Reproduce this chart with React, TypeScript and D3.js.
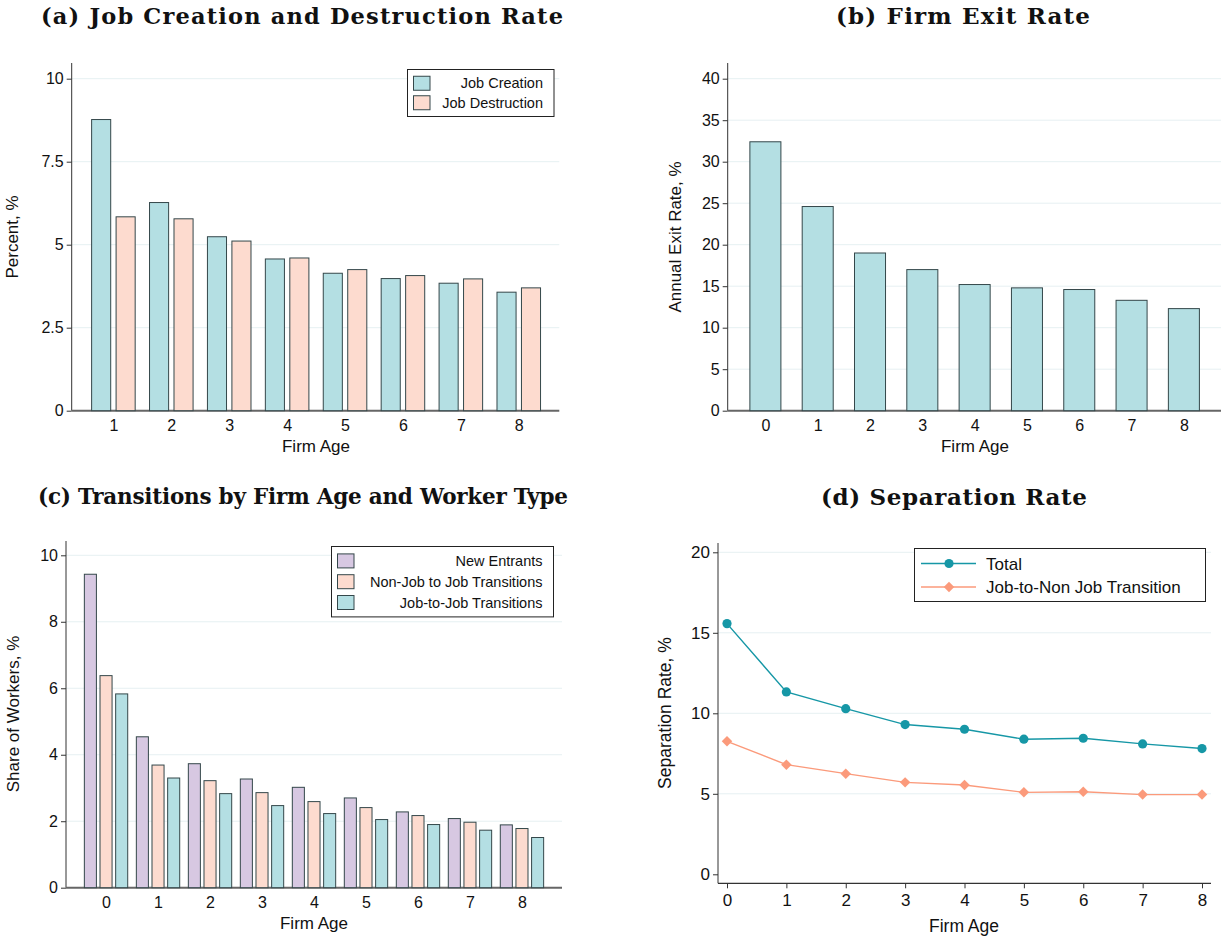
import React, { useEffect, useRef } from "react";
import * as d3 from "d3";

// ---- data ----
const agesA = [1, 2, 3, 4, 5, 6, 7, 8];
const jobCreation = [8.77, 6.27, 5.24, 4.57, 4.14, 3.98, 3.84, 3.57];
const jobDestruction = [5.84, 5.78, 5.11, 4.6, 4.25, 4.07, 3.97, 3.7];

const agesB = [0, 1, 2, 3, 4, 5, 6, 7, 8];
const exitRate = [32.4, 24.6, 19.0, 17.0, 15.2, 14.8, 14.6, 13.3, 12.3];

const newEntrants = [9.43, 4.54, 3.73, 3.27, 3.02, 2.7, 2.28, 2.08, 1.89];
const nonJobToJob = [6.38, 3.69, 3.22, 2.86, 2.59, 2.41, 2.17, 1.97, 1.78];
const jobToJob = [5.83, 3.3, 2.83, 2.47, 2.23, 2.05, 1.9, 1.73, 1.51];

const sepTotal = [15.57, 11.33, 10.29, 9.3, 9.01, 8.39, 8.45, 8.1, 7.81];
const sepJobToNonJob = [8.26, 6.81, 6.25, 5.71, 5.55, 5.09, 5.13, 4.95, 4.95];

const yTicksA = [0, 2.5, 5, 7.5, 10];
const yTicksB = [0, 5, 10, 15, 20, 25, 30, 35, 40];
const yTicksC = [0, 2, 4, 6, 8, 10];
const yTicksD = [0, 5, 10, 15, 20];

const TEAL = "#b4dfe3";
const PEACH = "#fddbcf";
const LAVENDER = "#d7c8e2";
const EDGE = "#34474a";
const GRID = "#e6f0f2";
const LINE_TOTAL = "#1697a6";
const LINE_JTN = "#fb9a7b";
const SANS = "'Liberation Sans', Arial, sans-serif";
const SERIF = "'DejaVu Serif', serif";

type Panel = {
  x: d3.ScaleLinear<number, number>;
  y: d3.ScaleLinear<number, number>;
  xTicks: number[];
  yTicks: number[];
  axisTop: number;
  xLeft: number;
  xRight: number;
  yBottom: number;
  font: number;
  xTickMarks: boolean;
  xPad: number;
};

function drawFrame(svg: any, p: Panel) {
  const g = svg.append("g");
  // gridlines
  g.selectAll("line.grid")
    .data(p.yTicks.filter((t) => t !== 0))
    .enter()
    .append("line")
    .attr("x1", p.xLeft)
    .attr("x2", p.xRight)
    .attr("y1", (d: number) => p.y(d))
    .attr("y2", (d: number) => p.y(d))
    .attr("stroke", GRID)
    .attr("stroke-width", 1);

  // y axis
  const ya = g
    .append("g")
    .attr("transform", `translate(${p.xLeft},0)`)
    .call(
      d3
        .axisLeft(p.y)
        .tickValues(p.yTicks)
        .tickSize(5)
        .tickPadding(3)
        .tickFormat((d: any) => String(d))
    );
  ya.select(".domain").remove();
  ya.selectAll("line").attr("stroke", "#333");
  ya.selectAll("text")
    .attr("font-family", SANS)
    .attr("font-size", p.font)
    .attr("fill", "#111");
  g.append("line")
    .attr("x1", p.xLeft)
    .attr("x2", p.xLeft)
    .attr("y1", p.axisTop)
    .attr("y2", p.yBottom)
    .attr("stroke", "#333")
    .attr("stroke-width", 1);

  // x axis
  const xa = g
    .append("g")
    .attr("transform", `translate(0,${p.yBottom})`)
    .call(
      d3
        .axisBottom(p.x)
        .tickValues(p.xTicks)
        .tickSize(p.xTickMarks ? 5 : 0)
        .tickPadding(p.xPad)
        .tickFormat((d: any) => String(d))
    );
  xa.select(".domain").remove();
  xa.selectAll("line").attr("stroke", "#333");
  xa.selectAll("text")
    .attr("font-family", SANS)
    .attr("font-size", p.font)
    .attr("fill", "#111");
  g.append("line")
    .attr("x1", p.xLeft)
    .attr("x2", p.xRight)
    .attr("y1", p.yBottom)
    .attr("y2", p.yBottom)
    .attr("stroke", p.xTickMarks ? "#333" : "#666")
    .attr("stroke-width", p.xTickMarks ? 1.2 : 2);
}

function label(svg: any, text: string, x: number, y: number, size: number, rotate = false) {
  svg
    .append("text")
    .attr("transform", rotate ? `translate(${x},${y}) rotate(-90)` : `translate(${x},${y})`)
    .attr("text-anchor", "middle")
    .attr("font-family", SANS)
    .attr("font-size", size)
    .attr("fill", "#111")
    .text(text);
}

// panel titles: width fitted to the reference's serif titles
function title(svg: any, text: string, x: number, y: number, width: number, size: number) {
  svg
    .append("text")
    .attr("x", x - width / 2)
    .attr("y", y)
    .attr("font-family", SERIF)
    .attr("font-weight", "bold")
    .attr("font-size", size)
    .attr("textLength", width)
    .attr("lengthAdjust", "spacing")
    .attr("fill", "#111")
    .text(text);
}

function barLegend(svg: any, items: { name: string; color: string }[], x0: number, y0: number, x1: number, rowH: number) {
  const h = items.length * rowH + 8;
  svg
    .append("rect")
    .attr("x", x0)
    .attr("y", y0)
    .attr("width", x1 - x0)
    .attr("height", h)
    .attr("fill", "white")
    .attr("stroke", "#222")
    .attr("stroke-width", 1);
  items.forEach((it, i) => {
    const cy = y0 + 4 + rowH * i + rowH / 2;
    svg
      .append("rect")
      .attr("x", x0 + 6)
      .attr("y", cy - 7)
      .attr("width", 16.5)
      .attr("height", 14)
      .attr("fill", it.color)
      .attr("stroke", EDGE)
      .attr("stroke-width", 1);
    svg
      .append("text")
      .attr("x", x1 - 11)
      .attr("y", cy + 5)
      .attr("text-anchor", "end")
      .attr("font-family", SANS)
      .attr("font-size", 14.5)
      .attr("fill", "#111")
      .text(it.name);
  });
}

const App = () => {
  const ref = useRef<SVGSVGElement>(null);

  useEffect(() => {
    const svg = d3.select(ref.current);
    svg.selectAll("*").remove();

    // ---------- (a) ----------
    const pa: Panel = {
      x: d3.scaleLinear().domain([0.28, 8.7]).range([71.7, 559.3]),
      y: d3.scaleLinear().domain([0, 10]).range([410.7, 78.7]),
      xTicks: agesA,
      yTicks: yTicksA,
      axisTop: 63,
      xLeft: 71.7,
      xRight: 559.3,
      yBottom: 410.7,
      font: 16,
      xTickMarks: false,
      xPad: 8.5,
    };
    const stepA = pa.x(2) - pa.x(1);
    const subA = d3
      .scaleBand<string>()
      .domain(["jc", "jd"])
      .range([-0.376 * stepA, 0.376 * stepA])
      .paddingInner(0.22);
    drawFrame(svg, pa);
    const seriesA = [
      { key: "jc", vals: jobCreation, color: TEAL },
      { key: "jd", vals: jobDestruction, color: PEACH },
    ];
    seriesA.forEach((s) => {
      svg
        .append("g")
        .selectAll("rect")
        .data(s.vals)
        .enter()
        .append("rect")
        .attr("x", (d: number, i: number) => pa.x(agesA[i]) + (subA(s.key) as number))
        .attr("y", (d: number) => pa.y(d))
        .attr("width", subA.bandwidth())
        .attr("height", (d: number) => pa.y(0) - pa.y(d))
        .attr("fill", s.color)
        .attr("stroke", EDGE)
        .attr("stroke-width", 1);
    });
    title(svg, "(a) Job Creation and Destruction Rate", 302, 24, 522, 22.5);
    label(svg, "Firm Age", 316, 452, 17);
    label(svg, "Percent, %", 18, 237, 17, true);
    barLegend(
      svg,
      [
        { name: "Job Creation", color: TEAL },
        { name: "Job Destruction", color: PEACH },
      ],
      407.5,
      69.5,
      554,
      19.5
    );

    // ---------- (b) ----------
    const pb: Panel = {
      x: d3.scaleLinear().domain([-0.72, 8.71]).range([727.7, 1221]),
      y: d3.scaleLinear().domain([0, 40]).range([410.7, 78.7]),
      xTicks: agesB,
      yTicks: yTicksB,
      axisTop: 63,
      xLeft: 727.7,
      xRight: 1221,
      yBottom: 410.7,
      font: 16,
      xTickMarks: false,
      xPad: 9,
    };
    const stepB = pb.x(1) - pb.x(0);
    drawFrame(svg, pb);
    svg
      .append("g")
      .selectAll("rect")
      .data(exitRate)
      .enter()
      .append("rect")
      .attr("x", (d: number, i: number) => pb.x(agesB[i]) - 0.296 * stepB)
      .attr("y", (d: number) => pb.y(d))
      .attr("width", 0.593 * stepB)
      .attr("height", (d: number) => pb.y(0) - pb.y(d))
      .attr("fill", TEAL)
      .attr("stroke", EDGE)
      .attr("stroke-width", 1);
    title(svg, "(b) Firm Exit Rate", 963, 24, 254, 23);
    label(svg, "Firm Age", 975, 452, 17);
    label(svg, "Annual Exit Rate, %", 681, 237, 17, true);

    // ---------- (c) ----------
    const pc: Panel = {
      x: d3.scaleLinear().domain([-0.77, 8.77]).range([66, 562]),
      y: d3.scaleLinear().domain([0, 10]).range([887.7, 555.3]),
      xTicks: agesB,
      yTicks: yTicksC,
      axisTop: 541,
      xLeft: 66,
      xRight: 562,
      yBottom: 887.7,
      font: 16,
      xTickMarks: false,
      xPad: 9,
    };
    const stepC = pc.x(1) - pc.x(0);
    const subC = d3
      .scaleBand<string>()
      .domain(["ne", "nj", "jj"])
      .range([-0.417 * stepC, 0.417 * stepC])
      .paddingInner(0.23);
    drawFrame(svg, pc);
    const seriesC = [
      { key: "ne", vals: newEntrants, color: LAVENDER },
      { key: "nj", vals: nonJobToJob, color: PEACH },
      { key: "jj", vals: jobToJob, color: TEAL },
    ];
    seriesC.forEach((s) => {
      svg
        .append("g")
        .selectAll("rect")
        .data(s.vals)
        .enter()
        .append("rect")
        .attr("x", (d: number, i: number) => pc.x(agesB[i]) + (subC(s.key) as number))
        .attr("y", (d: number) => pc.y(d))
        .attr("width", subC.bandwidth())
        .attr("height", (d: number) => pc.y(0) - pc.y(d))
        .attr("fill", s.color)
        .attr("stroke", EDGE)
        .attr("stroke-width", 1);
    });
    title(svg, "(c) Transitions by Firm Age and Worker Type", 303, 504, 530, 21.5);
    label(svg, "Firm Age", 314, 929, 17);
    label(svg, "Share of Workers, %", 19, 714, 17, true);
    barLegend(
      svg,
      [
        { name: "New Entrants", color: LAVENDER },
        { name: "Non-Job to Job Transitions", color: PEACH },
        { name: "Job-to-Job Transitions", color: TEAL },
      ],
      331.5,
      546.5,
      553.5,
      20.8
    );

    // ---------- (d) ----------
    const pd: Panel = {
      x: d3.scaleLinear().domain([0, 8]).range([727, 1202]),
      y: d3.scaleLinear().domain([0, 20]).range([874.3, 552.3]),
      xTicks: agesB,
      yTicks: yTicksD,
      axisTop: 543,
      xLeft: 718,
      xRight: 1211,
      yBottom: 883.3,
      font: 17,
      xTickMarks: true,
      xPad: 6,
    };
    drawFrame(svg, pd);
    const lineGen = d3
      .line<number>()
      .x((d, i) => pd.x(agesB[i]))
      .y((d) => pd.y(d));
    svg
      .append("path")
      .attr("d", lineGen(sepTotal))
      .attr("fill", "none")
      .attr("stroke", LINE_TOTAL)
      .attr("stroke-width", 1.4);
    svg
      .append("path")
      .attr("d", lineGen(sepJobToNonJob))
      .attr("fill", "none")
      .attr("stroke", LINE_JTN)
      .attr("stroke-width", 1.4);
    svg
      .append("g")
      .selectAll("circle")
      .data(sepTotal)
      .enter()
      .append("circle")
      .attr("cx", (d: number, i: number) => pd.x(agesB[i]))
      .attr("cy", (d: number) => pd.y(d))
      .attr("r", 4.6)
      .attr("fill", LINE_TOTAL);
    const diamond = d3.symbol().type(d3.symbolDiamond2).size(70);
    svg
      .append("g")
      .selectAll("path")
      .data(sepJobToNonJob)
      .enter()
      .append("path")
      .attr("d", diamond() as string)
      .attr("transform", (d: number, i: number) => `translate(${pd.x(agesB[i])},${pd.y(d)})`)
      .attr("fill", LINE_JTN);
    title(svg, "(d) Separation Rate", 954, 505, 266, 23);
    label(svg, "Firm Age", 964, 932, 17.5);
    label(svg, "Separation Rate, %", 671, 713, 17.5, true);

    // legend (d)
    const lg = svg.append("g");
    lg.append("rect")
      .attr("x", 914.5)
      .attr("y", 548.5)
      .attr("width", 291)
      .attr("height", 53)
      .attr("fill", "white")
      .attr("stroke", "#222")
      .attr("stroke-width", 1);
    [
      { name: "Total", color: LINE_TOTAL, cy: 563.5, kind: "circle" },
      { name: "Job-to-Non Job Transition", color: LINE_JTN, cy: 587, kind: "diamond" },
    ].forEach((it) => {
      lg.append("line")
        .attr("x1", 921)
        .attr("x2", 976)
        .attr("y1", it.cy)
        .attr("y2", it.cy)
        .attr("stroke", it.color)
        .attr("stroke-width", 1.4);
      if (it.kind === "circle") {
        lg.append("circle").attr("cx", 949).attr("cy", it.cy).attr("r", 4.6).attr("fill", it.color);
      } else {
        lg.append("path")
          .attr("d", diamond() as string)
          .attr("transform", `translate(949,${it.cy})`)
          .attr("fill", it.color);
      }
      lg.append("text")
        .attr("x", 986)
        .attr("y", it.cy + 6)
        .attr("font-family", SANS)
        .attr("font-size", 17)
        .attr("fill", "#111")
        .text(it.name);
    });
  });

  return (
    <svg
      ref={ref}
      width={1225}
      height={939}
      style={{ position: "absolute", left: 0, top: 0, background: "white" }}
    ></svg>
  );
};

export default App;
